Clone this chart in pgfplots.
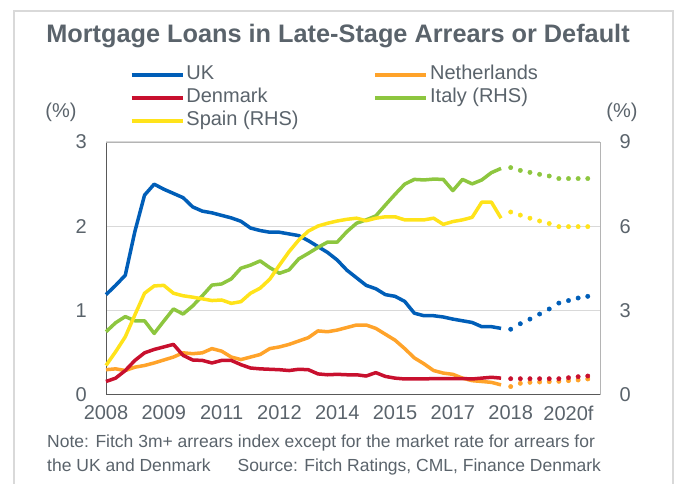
\documentclass[border=0pt]{standalone}
\usepackage{fontspec}
\setmainfont{Liberation Sans}
\usepackage{pgfplots}
\usepackage{pgfplotstable}
\pgfplotsset{compat=1.18}

\definecolor{txt}{HTML}{5A636B}
\definecolor{ukblue}{HTML}{005EB8}
\definecolor{nlorange}{HTML}{FFA32A}
\definecolor{dkred}{HTML}{C8102E}
\definecolor{itgreen}{HTML}{8DC63F}
\definecolor{esyellow}{HTML}{FFE31A}
\definecolor{gridgray}{HTML}{D9D9D9}
\definecolor{bordergray}{HTML}{B4B4B4}
\definecolor{axisgray}{HTML}{595959}

% quarterly index: 0 = 2008Q1
\pgfplotstableread{
q   uk    nl    dk
0   1.19  0.30  0.16
1   1.30  0.31  0.20
2   1.42  0.29  0.29
3   1.94  0.33  0.41
4   2.37  0.35  0.50
5   2.50  0.38  0.54
6   2.44  0.415 0.57
7   2.39  0.45  0.60
8   2.34  0.50  0.47
9   2.23  0.49  0.415
10  2.18  0.50  0.41
11  2.16  0.55  0.38
12  2.13  0.52  0.41
13  2.10  0.45  0.41
14  2.06  0.42  0.36
15  1.98  0.45  0.32
16  1.95  0.48  0.31
17  1.93  0.55  0.305
18  1.93  0.57  0.30
19  1.91  0.60  0.29
20  1.89  0.64  0.305
21  1.83  0.68  0.30
22  1.76  0.76  0.25
23  1.69  0.75  0.24
24  1.60  0.77  0.245
25  1.48  0.80  0.24
26  1.39  0.83  0.24
27  1.30  0.83  0.225
28  1.26  0.79  0.265
29  1.19  0.72  0.22
30  1.17  0.65  0.20
31  1.11  0.55  0.19
32  0.97  0.44  0.19
33  0.94  0.37  0.19
34  0.94  0.29  0.195
35  0.925 0.26  0.195
36  0.90  0.245 0.195
37  0.88  0.20  0.195
38  0.86  0.17  0.19
39  0.81  0.16  0.20
40  0.81  0.15  0.21
41  0.79  0.12  0.20
}\lhs

\pgfplotstableread{
q   uk    nl    dk
42  0.78  0.10  0.193
43  0.845 0.138 0.193
44  0.90  0.15  0.193
45  0.96  0.154 0.193
46  1.02  0.158 0.193
47  1.09  0.162 0.193
48  1.12  0.17  0.205
49  1.15  0.178 0.217
50  1.17  0.19  0.225
}\lhsf

\pgfplotstableread{
q   it    es
0   2.25  1.05
1   2.57  1.54
2   2.79  2.07
3   2.64  2.85
4   2.64  3.62
5   2.19  3.88
6   2.63  3.90
7   3.06  3.62
8   2.88  3.53
9   3.17  3.48
10  3.53  3.42
11  3.91  3.36
12  3.95  3.38
13  4.13  3.26
14  4.51  3.32
15  4.62  3.62
16  4.77  3.80
17  4.53  4.12
18  4.33  4.62
19  4.45  5.10
20  4.84  5.51
21  5.04  5.83
22  5.25  6.01
23  5.44  6.11
24  5.44  6.19
25  5.81  6.25
26  6.11  6.29
27  6.23  6.20
28  6.37  6.29
29  6.76  6.34
30  7.14  6.34
31  7.50  6.23
32  7.67  6.23
33  7.65  6.23
34  7.68  6.29
35  7.67  6.07
36  7.27  6.17
37  7.67  6.23
38  7.51  6.32
39  7.65  6.86
40  7.91  6.86
41  8.06  6.29
}\rhs

\pgfplotstableread{
q   it    es
42  8.09  6.51
43  7.99  6.40
44  7.92  6.29
45  7.85  6.19
46  7.79  6.10
47  7.70  5.99
48  7.70  5.99
49  7.70  5.99
50  7.70  5.99
}\rhsf

\pgfplotsset{
  base/.style={
    at={(106pt,89pt)}, anchor=south west,
    scale only axis, width=494pt, height=253pt,
    xmin=0, xmax=51.27, ymin=0,
    major tick length=0pt,
    tick label style={font=\fontsize{20}{21}\selectfont, text=txt, inner sep=0pt},
    /pgf/number format/assume math mode=true,
    clip=false,
  },
  ser/.style={line width=3.5pt, line join=round, mark=none},
  fc/.style={only marks, mark=*, mark size=2.2pt, forget plot},
}

\begin{document}
\begin{tikzpicture}
\useasboundingbox (0pt,0pt) rectangle (677pt,484pt);
\draw[gridgray, line width=2pt] (14pt,-10pt) rectangle (673pt,473pt);

\begin{axis}[base,
  ymax=3,
  axis x line*=bottom, axis y line*=left,
  axis line style={axisgray, line width=1pt, -},
  xtick={0,6,...,48},
  xticklabels={2008,2009,2011,2012,2014,2015,2017,2018,2020f},
  xticklabel style={yshift=-10.5pt},
  ytick={0,1,2,3},
  yticklabel style={xshift=-19pt},
  ymajorgrids, grid style={gridgray, line width=1pt},
  legend columns=2,
  legend style={at={(axis description cs:0.048,1.312)}, anchor=north west,
    draw=none, fill=none, inner sep=0pt, row sep=0pt,
    font=\fontsize{20}{23}\selectfont, text=txt,
    nodes={inner sep=2pt, text height=14.5pt, text depth=4.5pt},
    /tikz/every even column/.append style={column sep=73pt}},
  legend cell align=left,
  legend image code/.code={\draw[#1, line width=3.5pt] (0pt,0pt) -- (51pt,0pt);},
]
\addplot[ser, ukblue] table[x=q, y=uk] {\lhs};
\addlegendentry{UK}
\addplot[ser, nlorange] table[x=q, y=nl] {\lhs};
\addlegendentry{Netherlands}
\addplot[ser, dkred] table[x=q, y=dk] {\lhs};
\addlegendentry{Denmark}
\addlegendimage{itgreen}
\addlegendentry{Italy (RHS)}
\addlegendimage{esyellow}
\addlegendentry{Spain (RHS)}
\addplot[fc, ukblue] table[x=q, y=uk] {\lhsf};
\addplot[fc, nlorange] table[x=q, y=nl] {\lhsf};
\addplot[fc, dkred] table[x=q, y=dk] {\lhsf};
\end{axis}

\begin{axis}[base,
  ymax=9,
  axis x line*=top, axis y line*=right,
  axis line style={bordergray, line width=1pt, -},
  xtick=\empty,
  ytick={0,3,6,9},
  yticklabel style={xshift=19.5pt},
]
\addplot[ser, itgreen] table[x=q, y=it] {\rhs};
\addplot[ser, esyellow] table[x=q, y=es] {\rhs};
\addplot[fc, itgreen] table[x=q, y=it] {\rhsf};
\addplot[fc, esyellow] table[x=q, y=es] {\rhsf};
\end{axis}

\node[text=txt, font=\fontsize{25.3}{30}\selectfont\bfseries] at (338pt,448pt)
  {Mortgage Loans in Late-Stage Arrears or Default};
\node[text=txt, font=\fontsize{20}{24}\selectfont] at (61pt,372pt) {(\%)};
\node[text=txt, font=\fontsize{20}{24}\selectfont] at (622pt,372pt) {(\%)};
\node[text=txt, font=\fontsize{17.5}{24}\selectfont, anchor=north west,
  align=left, inner sep=0pt] at (47pt,49pt)
  {Note: Fitch 3m+ arrears index except for the market rate for arrears for\\
   the UK and Denmark\hspace{27pt}Source: Fitch Ratings, CML, Finance Denmark};
\end{tikzpicture}
\end{document}
